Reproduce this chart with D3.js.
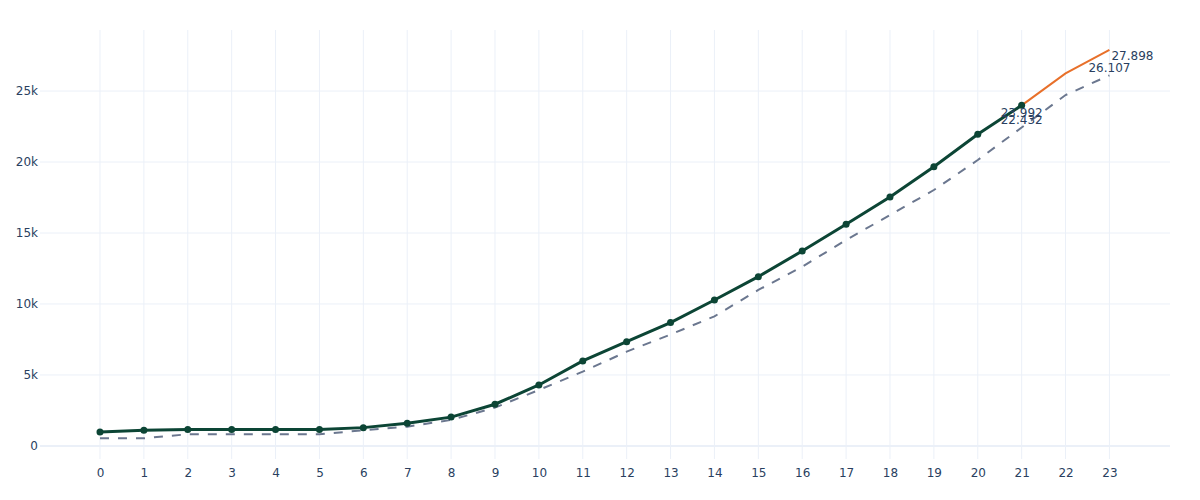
<!DOCTYPE html>
<html>
<head>
<meta charset="utf-8">
<script src="https://cdn.jsdelivr.net/npm/d3@7"></script>
<style>
  body { margin: 0; background: #fff; }
  text { font-family: "DejaVu Sans", Verdana, sans-serif; }
</style>
</head>
<body>
<div id="chart"></div>
<script>
// values
const days = d3.range(0, 24);
const actual = [986, 1106, 1150, 1150, 1150, 1150, 1290, 1600, 2030, 2937, 4296, 5986, 7345, 8690,
  10282, 11923, 13732, 15613, 17540, 19669, 21951, 23992];
const forecastX = [21, 22, 23];
const forecast = [23992, 26243, 27898];
const baseline = [540, 540, 824, 824, 824, 824, 1100, 1360, 1830, 2700, 3944, 5232, 6640, 7850,
  9130, 10986, 12627, 14507, 16268, 18028, 20141, 22432, 24718, 26107];
const yTicks = [0, 5000, 10000, 15000, 20000, 25000];
const endLabels = [
  { x: 21, y: 23992, text: "23.992", pos: "bottom" },
  { x: 21, y: 22432, text: "22.432", pos: "top" },
  { x: 23, y: 26107, text: "26.107", pos: "top" },
  { x: 23, y: 27898, text: "27.898", pos: "right" }
];

const width = 1200;
const height = 500;
const margin = { left: 40, right: 30, top: 30, bottom: 41 };
const font = "'DejaVu Sans', Verdana, sans-serif";

const svg = d3.select("#chart")
  .append("svg")
  .attr("width", width)
  .attr("height", height);

const x = d3.scaleLinear()
  .domain([-1.367, 24.38])
  .range([margin.left, width - margin.right]);

const y = d3.scaleLinear()
  .domain([-920, 29300])
  .range([height - margin.bottom, margin.top]);

// grid
svg.append("g")
  .selectAll("line")
  .data(days)
  .enter()
  .append("line")
  .attr("x1", (d) => x(d))
  .attr("x2", (d) => x(d))
  .attr("y1", margin.top)
  .attr("y2", height - margin.bottom)
  .attr("stroke", "#EBF0F8")
  .attr("stroke-width", 1);

svg.append("g")
  .selectAll("line")
  .data(yTicks)
  .enter()
  .append("line")
  .attr("x1", margin.left)
  .attr("x2", width - margin.right)
  .attr("y1", (d) => y(d))
  .attr("y2", (d) => y(d))
  .attr("stroke", "#EBF0F8")
  .attr("stroke-width", (d) => d === 0 ? 2 : 1);

// axes (labels only, plotly style)
svg.append("g")
  .attr("transform", `translate(0,${height - margin.bottom})`)
  .call(d3.axisBottom(x).tickValues(days).tickFormat(d3.format("d")).tickSize(0).tickPadding(9))
  .call((g) => g.select(".domain").remove())
  .call((g) => g.selectAll("text").attr("fill", "#2a3f5f").attr("font-size", "12px")
    .attr("font-family", font));

svg.append("g")
  .attr("transform", `translate(${margin.left},0)`)
  .call(d3.axisLeft(y).tickValues(yTicks).tickFormat((d) => d === 0 ? "0" : d / 1000 + "k").tickSize(0).tickPadding(2))
  .call((g) => g.select(".domain").remove())
  .call((g) => g.selectAll("text").attr("fill", "#2a3f5f").attr("font-size", "12px")
    .attr("font-family", font));

const line = d3.line()
  .x((d) => x(d[0]))
  .y((d) => y(d[1]));

// dashed baseline
svg.append("path")
  .datum(baseline.map((v, i) => [days[i], v]))
  .attr("fill", "none")
  .attr("stroke", "#6b778f")
  .attr("stroke-width", 2)
  .attr("stroke-dasharray", "9,9")
  .attr("d", line);

// forecast
svg.append("path")
  .datum(forecast.map((v, i) => [forecastX[i], v]))
  .attr("fill", "none")
  .attr("stroke", "#e8702a")
  .attr("stroke-width", 2)
  .attr("d", line);

// actual
svg.append("path")
  .datum(actual.map((v, i) => [days[i], v]))
  .attr("fill", "none")
  .attr("stroke", "#0c4535")
  .attr("stroke-width", 3)
  .attr("d", line);

svg.append("g")
  .selectAll("circle")
  .data(actual)
  .enter()
  .append("circle")
  .attr("cx", (d, i) => x(days[i]))
  .attr("cy", (d) => y(d))
  .attr("r", 3.5)
  .attr("fill", "#0c4535");

// end labels
svg.append("g")
  .selectAll("text")
  .data(endLabels)
  .enter()
  .append("text")
  .attr("x", (d) => d.pos === "right" ? x(d.x) + 2 : x(d.x))
  .attr("y", (d) => d.pos === "top" ? y(d.y) - 3 : d.pos === "bottom" ? y(d.y) + 12 : y(d.y) + 10)
  .attr("text-anchor", (d) => d.pos === "right" ? "start" : "middle")
  .attr("font-size", "12px")
  .attr("font-family", font)
  .attr("fill", "#2a3f5f")
  .text((d) => d.text);
</script>
</body>
</html>
